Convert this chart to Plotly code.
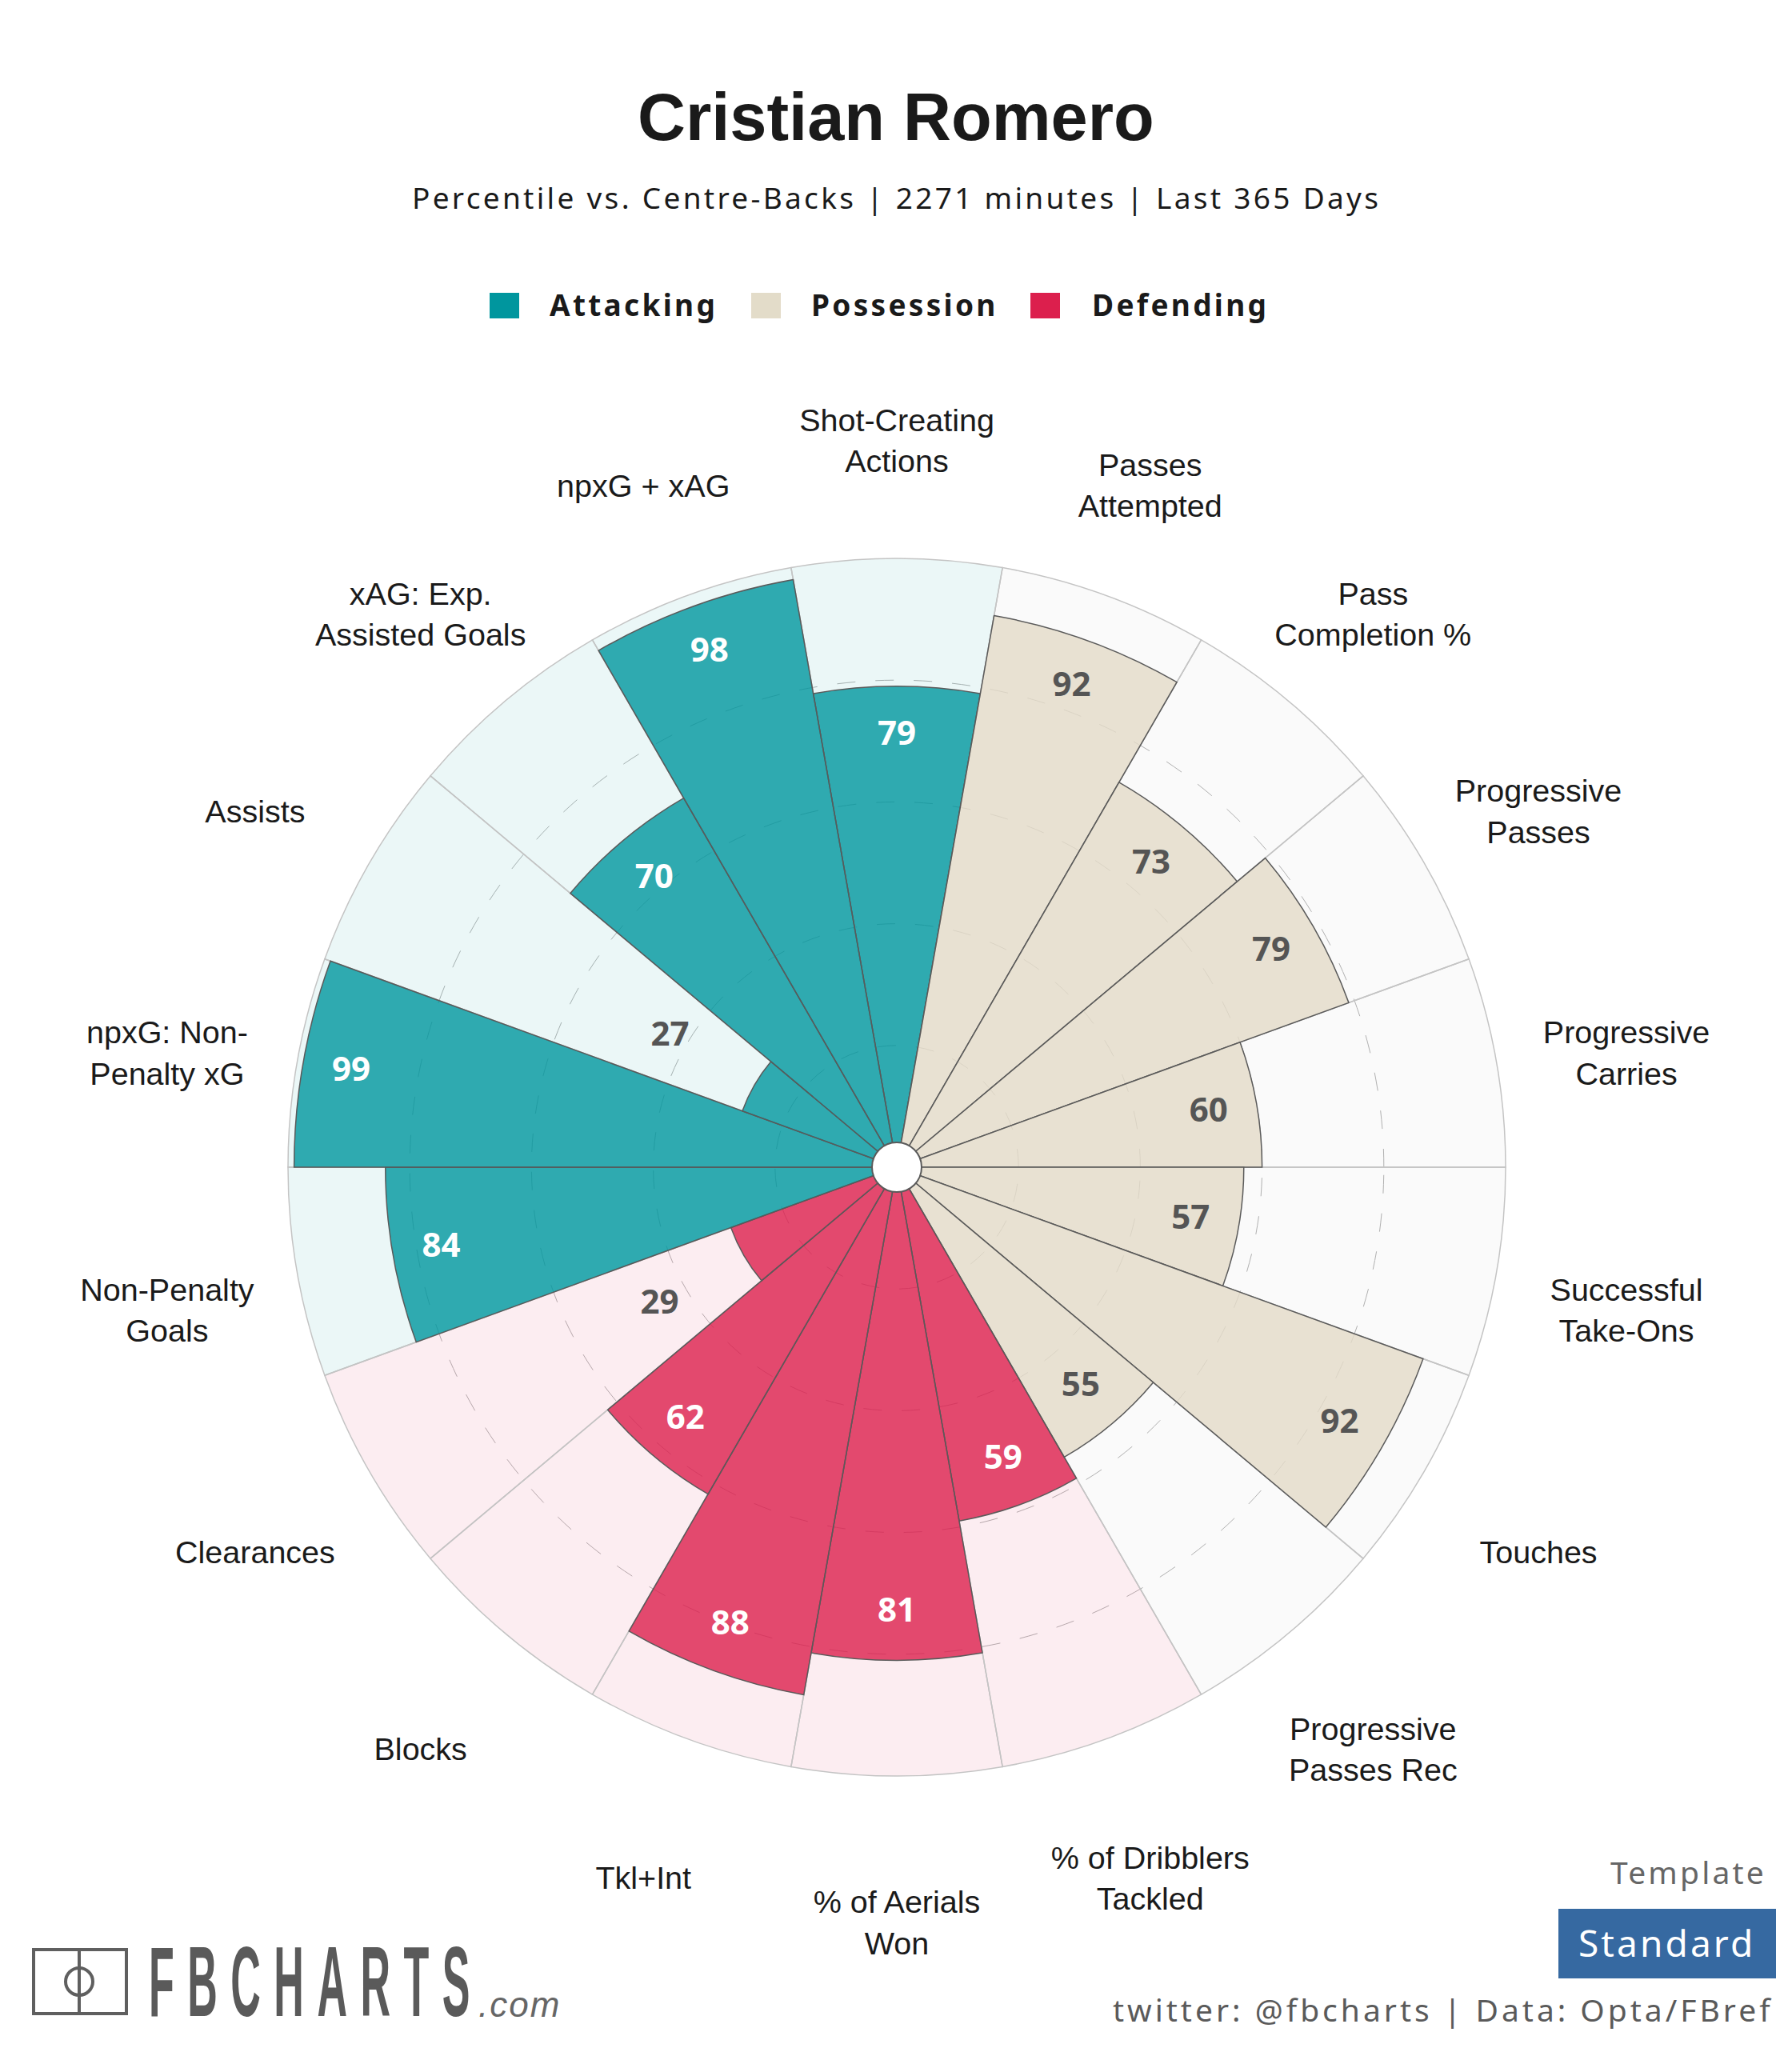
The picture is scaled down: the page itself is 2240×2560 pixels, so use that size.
import math
import plotly.graph_objects as go

# template values, clockwise from the top
metrics = ["Shot-Creating<br>Actions", "Passes<br>Attempted", "Pass<br>Completion %",
           "Progressive<br>Passes", "Progressive<br>Carries", "Successful<br>Take-Ons",
           "Touches", "Progressive<br>Passes Rec", "% of Dribblers<br>Tackled",
           "% of Aerials<br>Won", "Tkl+Int", "Blocks", "Clearances",
           "Non-Penalty<br>Goals", "npxG: Non-<br>Penalty xG", "Assists",
           "xAG: Exp.<br>Assisted Goals", "npxG + xAG"]
percentiles = [79, 92, 73, 79, 60, 57, 92, 55, 59, 81, 88, 62, 29, 84, 99, 27, 70, 98]
groups = ["Attacking", "Possession", "Possession", "Possession", "Possession", "Possession",
          "Possession", "Possession", "Defending", "Defending", "Defending", "Defending",
          "Defending", "Attacking", "Attacking", "Attacking", "Attacking", "Attacking"]
group_names = ["Attacking", "Possession", "Defending"]
rings = [20, 40, 60, 80]

fill = {"Attacking": "rgba(0,150,158,0.8)", "Possession": "rgba(227,219,200,0.8)", "Defending": "rgba(220,31,77,0.8)"}
pale = {"Attacking": "rgba(0,150,158,0.08)", "Possession": "rgba(0,0,0,0.02)", "Defending": "rgba(220,31,77,0.08)"}
swatch = {"Attacking": "#00969e", "Possession": "#e3dcc9", "Defending": "#dc1f4d"}
label_colour = {"Attacking": "white", "Possession": "#555555", "Defending": "white"}

W, H = 2240, 2560
CX, CY, R = 1121, 1459, 761
R_MAX = 128
LABEL_R = 121.7
LABEL_DROP = 2.9  # names sit a little low on the ring
R_PX = R * R_MAX / 100

step = 360 / len(metrics)
thetas = [i * step for i in range(len(metrics))]


def px(x):
    return x / W


def py(y):
    return 1 - y / H


def spaced(text, gap):
    return f'<span style="letter-spacing:{gap}px">{text}</span>'


def note(x, y, text, size, colour="#1a1a1a", family="Noto Sans", anchor="center"):
    return dict(x=px(x), y=py(y), xref="paper", yref="paper", text=text, showarrow=False,
                xanchor=anchor, yanchor="middle", borderpad=0,
                font=dict(family=family, size=size, color=colour))


def dropped(r, theta, drop):
    # same spot moved straight down the page, back in polar terms
    a = math.radians(theta)
    x = r * math.sin(a)
    y = r * math.cos(a) - drop
    return math.hypot(x, y), math.degrees(math.atan2(x, y))


fig = go.Figure()

# pale full-height wedges behind the values
fig.add_trace(go.Barpolar(r=[100] * len(thetas), theta=thetas, width=step,
                          marker=dict(color=[pale[g] for g in groups],
                                      line=dict(color="#c4c4c4", width=1.5)),
                          hoverinfo="skip", showlegend=False))
fig.add_trace(go.Barpolar(r=percentiles, theta=thetas, width=step,
                          marker=dict(color=[fill[g] for g in groups],
                                      line=dict(color="#5a5a5a", width=1.5)),
                          text=metrics, hovertemplate="%{text}: %{r}<extra></extra>", showlegend=False))

# small values don't fit inside the bar so they go above it
label_r = [p - 8 if p >= 35 else p + 16 for p in percentiles]
label_cols = [label_colour[g] if p >= 35 else "#555555" for g, p in zip(groups, percentiles)]
value_pos = [dropped(r, t, 0.2) for r, t in zip(label_r, thetas)]
fig.add_trace(go.Scatterpolar(r=[p[0] for p in value_pos], theta=[p[1] for p in value_pos], mode="text",
                              text=[str(p) for p in percentiles],
                              textfont=dict(family="Noto Sans", size=42, color=label_cols, weight="bold"),
                              hoverinfo="skip", showlegend=False))

# white hub
fig.add_trace(go.Scatterpolar(r=[0], theta=[0], mode="markers",
                              marker=dict(size=62, color="white", line=dict(color="#5a5a5a", width=2)),
                              hoverinfo="skip", showlegend=False))

# metric names round the outside
name_pos = [dropped(LABEL_R, t, LABEL_DROP) for t in thetas]
fig.add_trace(go.Scatterpolar(r=[p[0] for p in name_pos], theta=[p[1] for p in name_pos], mode="text",
                              text=metrics,
                              textfont=dict(family="Liberation Sans", size=39.5, color="#1a1a1a"),
                              hoverinfo="skip", showlegend=False))

annotations = [
    note(1120, 147, "<b>Cristian Romero</b>", 83, family="Liberation Sans"),
    note(1120, 247, spaced("Percentile vs. Centre-Backs | 2271 minutes | Last 365 Days", 3.3), 37),
    note(2110, 2339, spaced("Template", 3.2), 39, colour="#666666"),
    note(2083, 2428, spaced("Standard", 3.1), 46, colour="white"),
    note(1804, 2511, spaced("twitter: @fbcharts | Data: Opta/FBref", 4), 39, colour="#5a5a5a"),
    note(185, 2477, spaced("<b>FBCHARTS</b>", 16.5), 52, colour="#5a5a5a", family="Liberation Sans", anchor="left"),
    note(597, 2505, spaced("<i>.com</i>", 2), 44, colour="#666666", family="Liberation Sans", anchor="left"),
]

# legend row
legend_x = [612, 939, 1288]
legend_text_x = [686, 1013, 1364]
shapes = []
for name, x0, tx in zip(group_names, legend_x, legend_text_x):
    shapes.append(dict(type="rect", xref="paper", yref="paper", x0=px(x0), x1=px(x0 + 37),
                       y0=py(398), y1=py(366), fillcolor=swatch[name], line_width=0))
    annotations.append(note(tx, 380, spaced(f"<b>{name}</b>", 3.3), 37, anchor="left"))

# template box
shapes.append(dict(type="rect", xref="paper", yref="paper", x0=px(1948), x1=px(2220),
                   y0=py(2473), y1=py(2386), fillcolor="#3669a1", line_width=0, layer="below"))

# logo pitch
logo_line = dict(color="#5f5f5f", width=4)
shapes.append(dict(type="rect", xref="paper", yref="paper", x0=px(42), x1=px(158),
                   y0=py(2517), y1=py(2437), line=logo_line))
shapes.append(dict(type="line", xref="paper", yref="paper", x0=px(99), x1=px(99),
                   y0=py(2517), y1=py(2437), line=logo_line))
shapes.append(dict(type="circle", xref="paper", yref="paper", x0=px(82), x1=px(116),
                   y0=py(2494), y1=py(2460), line=logo_line))

fig.update_layout(
    width=W, height=H,
    margin=dict(l=0, r=0, t=0, b=0),
    paper_bgcolor="white",
    showlegend=False,
    annotations=annotations,
    shapes=shapes,
    polar=dict(
        domain=dict(x=[px(CX - R_PX), px(CX + R_PX)], y=[py(CY + R_PX), py(CY - R_PX)]),
        bgcolor="rgba(0,0,0,0)",
        barmode="overlay",
        radialaxis=dict(range=[0, R_MAX], tickvals=rings, showticklabels=False, ticks="",
                        showline=False, gridcolor="#b4b4b4", gridwidth=1.2,
                        griddash="23px,25px"),
        angularaxis=dict(rotation=90, direction="clockwise", showgrid=False, showline=False,
                         showticklabels=False, ticks=""),
    ),
)

# no page margin, and the logo wordmark is a tall condensed face so stretch it
page_fix = """
document.body.style.margin = '0';
document.querySelectorAll('.annotation-text').forEach(function (t) {
  if (t.textContent === 'FBCHARTS') {
    var b = t.getBBox();
    var cy = b.y + b.height / 2;
    t.setAttribute('transform', 'translate(0 ' + cy + ') scale(1 2.4) translate(0 ' + (-cy) + ')');
  }
});
"""

fig.write_html("out.html", config={"displayModeBar": False}, post_script=page_fix)
